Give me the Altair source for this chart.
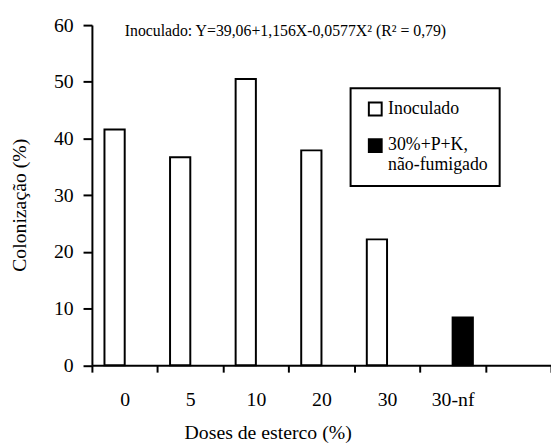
import altair as alt
import pandas as pd

categories = ["0", "5", "10", "20", "30", "30-nf", "_"]
series_names = ["Inoculado", "30%+P+K, não-fumigado"]
inoculado = [41.6, 36.7, 50.5, 37.9, 22.2]
inoc_cats = ["0", "5", "10", "20", "30"]
naofumigado = [8.4]
nf_cats = ["30-nf"]
equation = "Inoculado: Y=39,06+1,156X-0,0577X² (R² = 0,79)"

rows = [{"dose": c, "serie": series_names[0], "valor": v} for c, v in zip(inoc_cats, inoculado)]
rows += [{"dose": c, "serie": series_names[1], "valor": v} for c, v in zip(nf_cats, naofumigado)]
df = pd.DataFrame(rows)

FONT = "Liberation Serif"

bars = alt.Chart(df).mark_bar(stroke="black", strokeWidth=2).encode(
    x=alt.X("dose:N", sort=categories,
            scale=alt.Scale(domain=categories, paddingInner=0, paddingOuter=0),
            axis=alt.Axis(title="Doses de esterco (%)", labelAngle=0, tickBand="extent",
                          labelExpr="datum.label == '_' ? '' : datum.label",
                          tickSize=7, labelPadding=18, domainColor="black", tickColor="black",
                          domainWidth=2, tickWidth=2, labelFontSize=20, titleFontSize=20,
                          labelColor="black", titleColor="black", labelFont=FONT, titleFont=FONT,
                          titleFontWeight="normal", titleX=178, titleY=58,
                          titleBaseline="top", titleAnchor="middle")),
    xOffset=alt.XOffset("serie:N", sort=series_names,
                        scale=alt.Scale(domain=series_names, paddingInner=0, paddingOuter=0.62)),
    y=alt.Y("valor:Q", scale=alt.Scale(domain=[0, 60], nice=False),
            axis=alt.Axis(title="Colonização (%)", values=[0, 10, 20, 30, 40, 50, 60],
                          grid=False, tickSize=9, labelPadding=10, domainColor="black",
                          tickColor="black", domainWidth=2, tickWidth=2, labelFontSize=20,
                          titleFontSize=20, labelColor="black", titleColor="black",
                          labelFont=FONT, titleFont=FONT, titleFontWeight="normal",
                          titleX=-73, titleY=182, titleBaseline="middle", titleAlign="center")),
    fill=alt.Fill("serie:N", sort=series_names,
                  scale=alt.Scale(domain=series_names, range=["white", "black"]),
                  legend=alt.Legend(title=None, orient="none", legendX=262, legendY=64,
                                    symbolType="square", symbolSize=169, symbolOffset=4,
                                    symbolStrokeColor="black", symbolStrokeWidth=2,
                                    labelFont=FONT, labelFontSize=18, labelColor="black",
                                    labelLimit=300, rowPadding=15, labelOffset=4,
                                    labelExpr="datum.label == 'Inoculado' ? datum.label : ['30%+P+K,', 'não-fumigado\u00a0\u00a0']",
                                    strokeColor="black", padding=12)),
)

text = alt.Chart(pd.DataFrame({"t": [equation]})).mark_text(
    font=FONT, fontSize=16, color="black", align="center", baseline="middle"
).encode(text="t:N", x=alt.value(196), y=alt.value(6))

chart = alt.layer(bars, text).properties(
    width=465, height=344.5,
    autosize="none",
    padding={"left": 85, "top": 14.5, "right": 0, "bottom": 80},
).configure(font=FONT).configure_view(stroke=None).configure_legend(strokeWidth=2)

chart.save("out.html", embed_options={"renderer": "svg", "actions": False})
